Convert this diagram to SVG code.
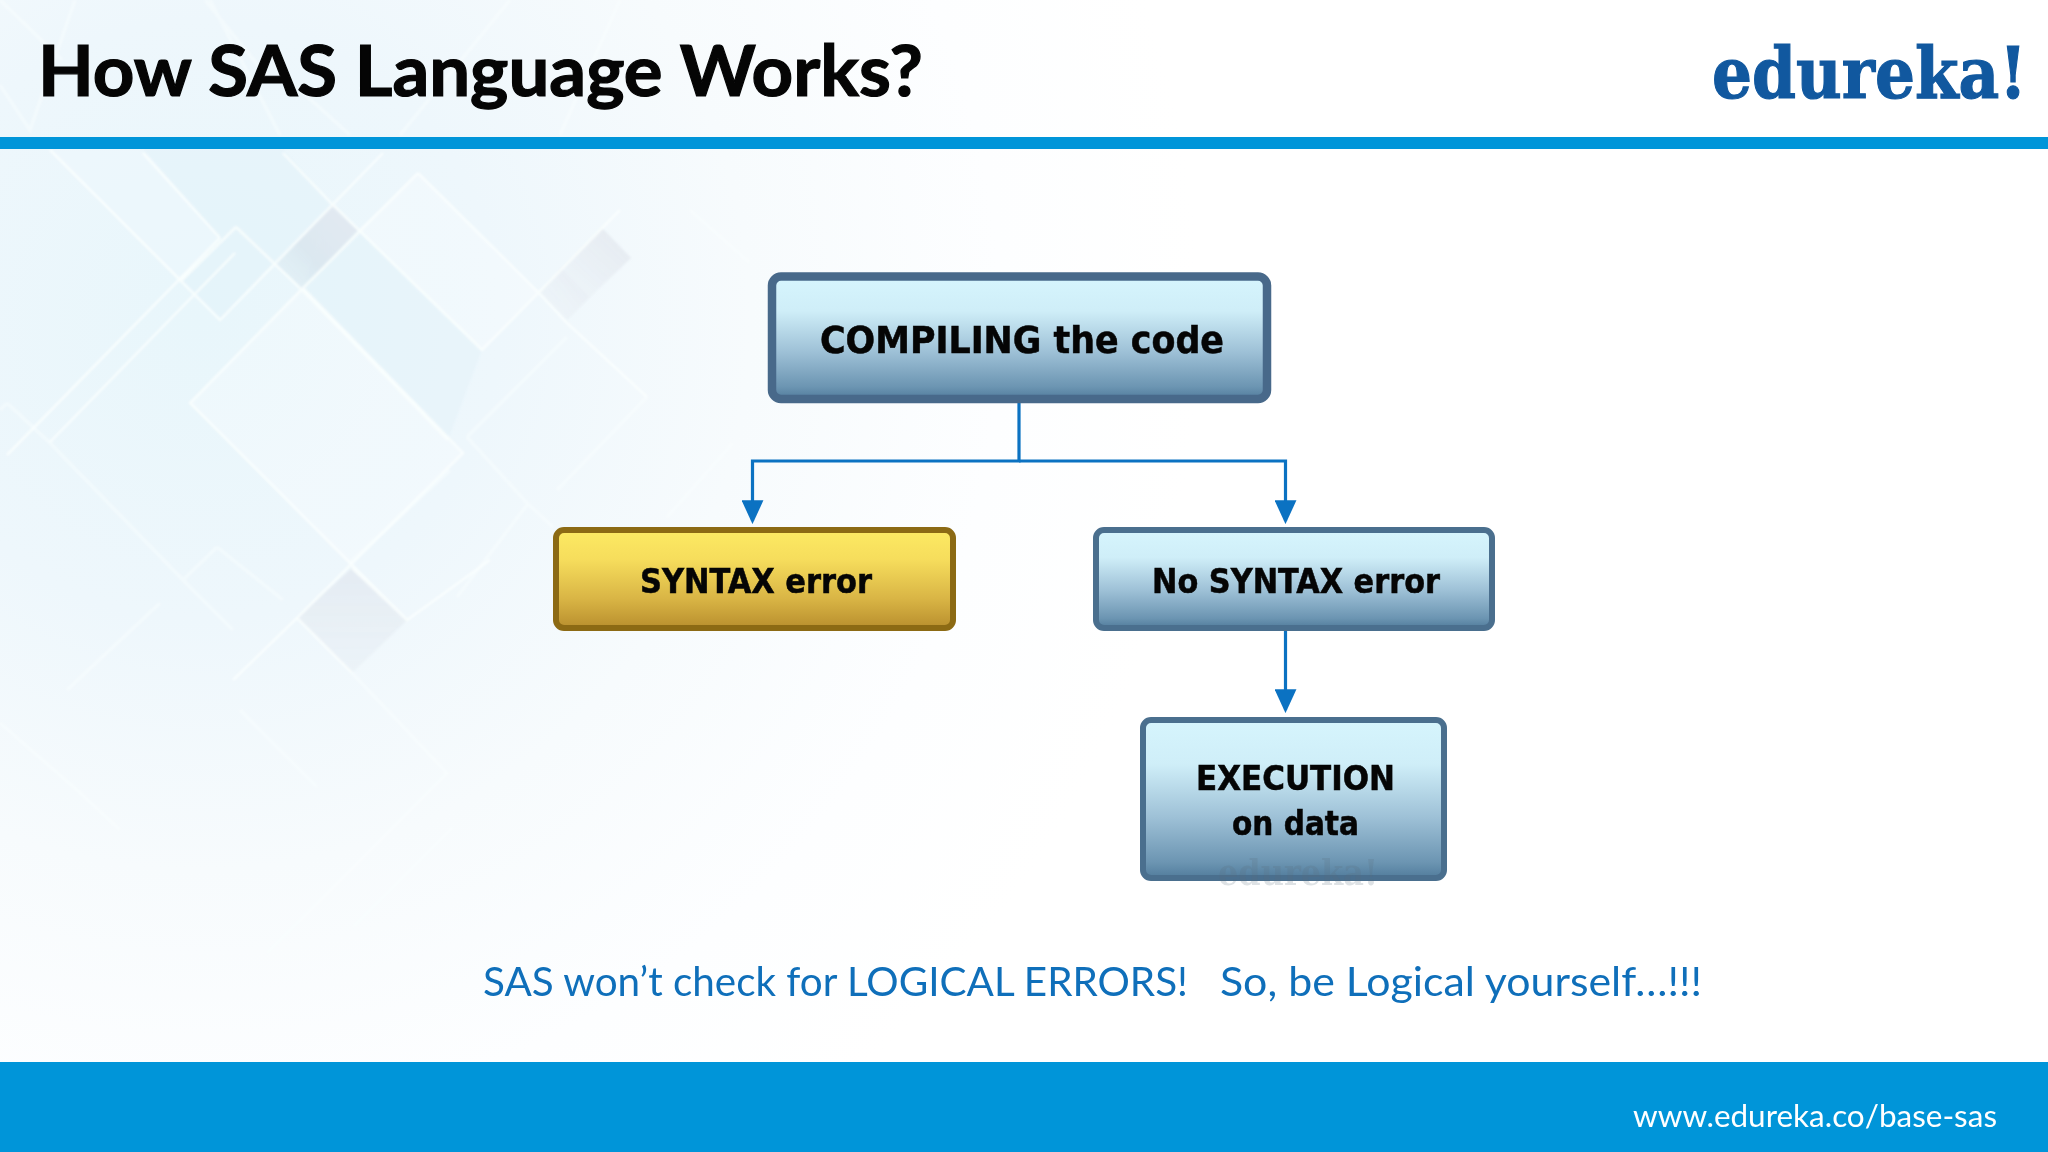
<svg xmlns="http://www.w3.org/2000/svg" width="2048" height="1152" viewBox="0 0 2048 1152">
<style>
.lbl{font-family:"DejaVu Sans",sans-serif;font-weight:700;font-stretch:condensed;fill:#050505;stroke:#050505;stroke-width:.5}
.wl{fill:none;stroke:#fbfffe;stroke-opacity:.8;stroke-width:2.5}
.wf{fill:none;stroke:#fbfffe;stroke-opacity:.45;stroke-width:3.5}
.pane{fill:#ffffff;fill-opacity:.26}
.tint{fill:#d8eff5;fill-opacity:.22}
.conn{fill:none;stroke:#0b72c2;stroke-width:3.2}
.head{fill:#0b72c2}
.logo{font-family:"DejaVu Serif",serif;font-weight:700;font-stretch:condensed}
.lato{font-family:Lato,sans-serif}
</style>
<defs>
<radialGradient id="bg" gradientUnits="userSpaceOnUse" cx="200" cy="320" r="1000">
<stop offset="0" stop-color="#e8f6fb"/><stop offset=".3" stop-color="#eef7fc"/><stop offset=".55" stop-color="#f7fbfd"/><stop offset=".8" stop-color="#fdfeff"/><stop offset="1" stop-color="#ffffff"/>
</radialGradient>
<linearGradient id="blue" x1="0" y1="0" x2="0" y2="1">
<stop offset="0" stop-color="#d6f5fd"/><stop offset=".28" stop-color="#cfeef8"/><stop offset=".62" stop-color="#9dc0d6"/><stop offset=".9" stop-color="#6c95b2"/><stop offset="1" stop-color="#517c9c"/>
</linearGradient>
<linearGradient id="gold" x1="0" y1="0" x2="0" y2="1">
<stop offset="0" stop-color="#fdea63"/><stop offset=".3" stop-color="#f6dd5c"/><stop offset=".7" stop-color="#d9b545"/><stop offset="1" stop-color="#b98f2e"/>
</linearGradient>
<linearGradient id="g1" x1="1" y1="0" x2="0" y2="1">
<stop offset="0" stop-color="#e3e8f0"/><stop offset=".6" stop-color="#d9e6ee"/><stop offset="1" stop-color="#d8ebf2" stop-opacity=".3"/>
</linearGradient>
<linearGradient id="g2" x1="1" y1="0" x2="0" y2="1">
<stop offset="0" stop-color="#e2e7ee"/><stop offset="1" stop-color="#e6ecf2" stop-opacity=".3"/>
</linearGradient>
<linearGradient id="g3" x1="0.5" y1="0" x2="0.5" y2="1">
<stop offset="0" stop-color="#e3eaf1"/><stop offset="1" stop-color="#e6edf3" stop-opacity=".5"/>
</linearGradient>
<filter id="soft" x="-5%" y="-5%" width="110%" height="110%"><feGaussianBlur stdDeviation="1"/></filter>
<marker id="arrow" markerUnits="userSpaceOnUse" markerWidth="24" markerHeight="22" refX="20" refY="10.500" orient="auto" viewBox="0 0 23 21">
<path class="head" d="M0 0L23 10.500L0 21Z"/>
</marker>
</defs>

<g id="background">
<rect width="2048" height="1062" fill="url(#bg)"/>
<g filter="url(#soft)">
<polygon class="tint" points="50,149 283,149 333,205 220,320"/>
<polygon class="tint" points="333,205 482,350 448,440 302,290"/>
<polygon class="pane" points="190,403 303,288 463,453 350,563"/>
<polygon class="pane" points="418,173 538,292 482,350 358,230"/>
<polygon class="pane" points="50,149 143,149 220,238 180,282"/>
<polygon points="333,205 358,230 302,290 275,263" fill="url(#g1)" opacity=".85"/>
<polygon points="602,228 631,258 590,297 561,268" fill="url(#g2)" opacity=".9"/>
<polygon points="561,268 590,297 567,320 540,292" fill="url(#g2)" opacity=".65"/>
<polygon points="352,568 407,620 352,673 297,618" fill="url(#g3)" opacity=".9"/>
<path class="wl" d="M50,150 220,320 383,153M143,153 220,238M220,238 7,455M235,253 50,442M236,227 180,282M236,227 302,290 448,440M283,153 333,205 482,350 620,210M418,173 303,288 190,403 350,563 407,620 490,560M418,173 538,292 567,323 647,397M303,288 463,453 297,618 233,680M352,673 297,618M352,568 407,620"/>
<path class="wf" d="M7,403 50,443 183,580 233,630M7,403 0,410M217,547 183,580M217,547 283,600M450,470 350,563M467,437 527,503 553,527M567,337 467,437M527,505 457,597M557,490 647,397M690,210 750,263M733,443 667,517M352,673 447,773 267,953M453,827 353,927M0,723 77,790 120,830M240,710 317,787M67,690 160,603M0,0 62,60M0,85 30,130 75,0M210,0 280,135M400,135 510,0M560,135 620,0M205,0 270,80M350,135 300,90"/>
</g>
</g>

<g id="header">
<rect y="137" width="2048" height="12" fill="#0095d9"/>
<text class="lato" x="38" y="96" font-weight="700" font-size="70" fill="#050505" stroke="#050505" stroke-width="1.200" textLength="885" lengthAdjust="spacingAndGlyphs">How SAS Language Works?</text>
<text class="logo" x="0" y="0" font-size="64" fill="#11589f" stroke="#11589f" stroke-width="1" transform="translate(1712,98) scale(1,1.120)" textLength="315" lengthAdjust="spacingAndGlyphs">edureka!</text>
</g>

<g id="connectors">
<path class="conn" d="M1019 403V461H752.500V521" marker-end="url(#arrow)"/>
<path class="conn" d="M1019 461H1285.500V521" marker-end="url(#arrow)"/>
<path class="conn" d="M1285.500 631V710" marker-end="url(#arrow)"/>
</g>

<g id="compile">
<rect x="772" y="276.500" width="495" height="122.500" rx="9" fill="url(#blue)" stroke="#48698a" stroke-width="8.500"/>
<text class="lbl" x="820" y="353" font-size="38" textLength="404" lengthAdjust="spacingAndGlyphs">COMPILING the code</text>
</g>
<g id="syntax-error">
<rect x="556" y="530" width="397" height="98" rx="8" fill="url(#gold)" stroke="#8c6a14" stroke-width="6"/>
<text class="lbl" x="640" y="593" font-size="34" textLength="232" lengthAdjust="spacingAndGlyphs">SYNTAX error</text>
</g>
<g id="no-syntax-error">
<rect x="1096" y="530" width="396" height="98" rx="8" fill="url(#blue)" stroke="#4a6f8e" stroke-width="6"/>
<text class="lbl" x="1152" y="593" font-size="34" textLength="288" lengthAdjust="spacingAndGlyphs">No SYNTAX error</text>
</g>
<g id="execution">
<rect x="1143" y="720" width="301" height="158" rx="8" fill="url(#blue)" stroke="#4a6f8e" stroke-width="6"/>
<text class="lbl" x="1196" y="790" font-size="34" textLength="199" lengthAdjust="spacingAndGlyphs">EXECUTION</text>
<text class="lbl" x="1232" y="835" font-size="34" textLength="127" lengthAdjust="spacingAndGlyphs">on data</text>
<text class="logo" x="1218" y="885" font-size="35" fill="#5a6f7d" fill-opacity=".2" textLength="160" lengthAdjust="spacingAndGlyphs">edureka!</text>
</g>

<g id="footer">
<text class="lato" x="483" y="996" font-size="40" fill="#0f6fba" textLength="705" lengthAdjust="spacingAndGlyphs">SAS won’t check for LOGICAL ERRORS!</text>
<text class="lato" x="1220" y="996" font-size="40" fill="#0f6fba" textLength="482" lengthAdjust="spacingAndGlyphs">So, be Logical yourself…!!!</text>
<rect y="1062" width="2048" height="90" fill="#0095d9"/>
<text class="lato" x="1633" y="1127" font-size="31" fill="#ffffff" textLength="364" lengthAdjust="spacingAndGlyphs">www.edureka.co/base-sas</text>
</g>
</svg>
